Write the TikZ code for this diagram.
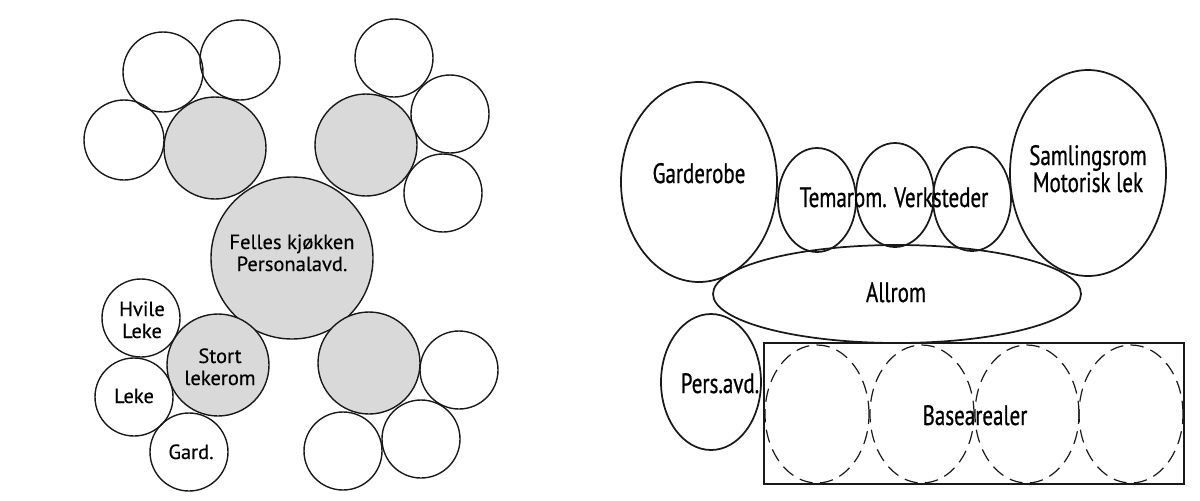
\documentclass[tikz,border=0pt]{standalone}
\usepackage{fontspec}
\setmainfont{PT Sans}
\newfontfamily\roomfont[FakeBold=0.4]{PT Sans}
\newfontfamily\planfont[FakeStretch=0.75,FakeBold=0.7]{PT Sans}
\usetikzlibrary{shapes.geometric}
\begin{document}
\begin{tikzpicture}[x=0.75pt,y=-0.75pt,
  room/.style={circle, draw=black!90, line width=1.05pt, inner sep=0pt, minimum size=#1*1.5pt},
  core/.style={room=#1, fill=black!15},
  oval/.style 2 args={ellipse, draw=black!90, line width=1.3pt, inner sep=0pt,
     minimum width=#1*1.5pt, minimum height=#2*1.5pt},
  base/.style 2 args={oval={#1}{#2}, line width=0.9pt, dash pattern=on 10pt off 5.5pt},
  lbl/.style={font=\roomfont\fontsize{15.4}{16.5}\selectfont, align=center, inner sep=0pt, anchor=base, text=black},
  plan/.style={font=\planfont\fontsize{21}{20.25}\selectfont, align=center, inner sep=0pt, anchor=base, text=black}]
\useasboundingbox (0,0) rectangle (1200,500);

% ---------- left: shared core with four wings ----------
\node[core=81] (kitchen) at (292,258) {};
\node[core=51] (wingNW) at (215,148) {};
\node[core=51] (wingNE) at (366,145) {};
\node[core=51] (wingSE) at (369,363) {};
\node[core=51] (play)   at (218,365) {};

\node[room=40] (nw1) at (124,140) {};
\node[room=40] (nw2) at (163,72) {};
\node[room=40] (nw3) at (240,60) {};

\node[room=39] (ne1) at (394,58) {};
\node[room=39] (ne2) at (450,114) {};
\node[room=39] (ne3) at (443,193) {};

\node[room=39] (se1) at (459,370) {};
\node[room=39] (se2) at (421,439) {};
\node[room=39] (se3) at (343,451) {};

\node[room=39] (rest) at (141,318) {};
\node[room=39] (toy)  at (134,397) {};
\node[room=39] (gard) at (189,452) {};

% base anchor of a two-line label sits on its last line
\node[lbl] (tKitchen) at (292,271) {Felles kjøkken\\Personalavd.};
\node[lbl] (tPlay) at (220,385) {Stort\\lekerom};
\node[lbl] (tRest) at (142,338) {Hvile\\Leke};
\node[lbl] (tToy)  at (134,403) {Leke};
\node[lbl] (tGard) at (191,459) {Gard.};

% ---------- right: open plan around the common room ----------
\node[oval={78}{100}] (wardrobe) at (699,182) {};
\node[oval={78}{103}] (gather) at (1088,173) {};
\node[oval={39}{52}] (theme1) at (817,200) {};
\node[oval={39}{52}] (theme2) at (895,195) {};
\node[oval={39}{52}] (theme3) at (972,199) {};
\node[oval={184}{49}] (allrom) at (897,294) {};
\node[oval={50}{68}] (staff) at (711,382) {};

\draw[draw=black!90, line width=1.3pt] (764,343) rectangle (1184,484);
\node[base={52}{69}] (b1) at (817,414) {};
\node[base={52}{69}] (b2) at (922,414) {};
\node[base={52}{69}] (b3) at (1027,414) {};
\node[base={52}{69}] (b4) at (1131,414) {};

\node[plan] (tWardrobe) at (699,183) {Garderobe};
\node[plan] (tTheme) at (894,207) {Temarom. Verksteder};
\node[plan] (tGather) at (1088,192) {Samlingsrom\\Motorisk lek};
\node[plan] (tAll) at (896,302) {Allrom};
\node[plan] (tStaff) at (720,393) {Pers.avd.};
\node[plan] (tBase) at (975,425) {Basearealer};
\end{tikzpicture}
\end{document}
